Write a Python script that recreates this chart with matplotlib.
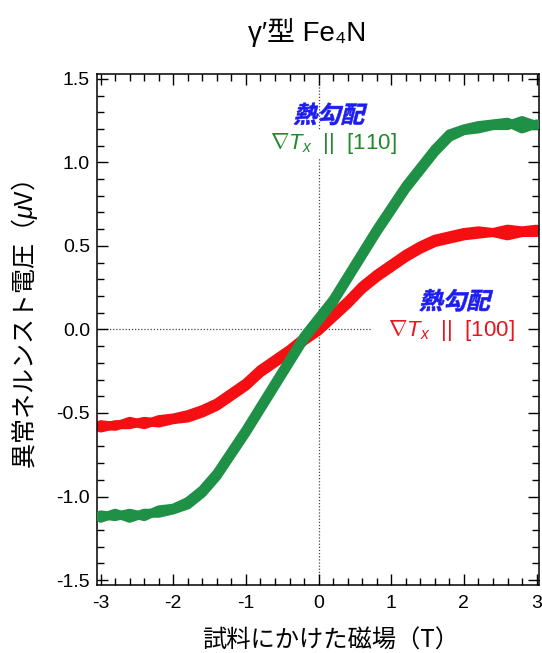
import matplotlib
matplotlib.use("Agg")
import matplotlib.pyplot as plt
import matplotlib.transforms as mtransforms
from matplotlib.ticker import MultipleLocator
from matplotlib.textpath import TextPath
from matplotlib.patches import PathPatch
from matplotlib.font_manager import FontProperties

plt.rcParams['font.family'] = ['Liberation Sans', 'Noto Sans CJK JP', 'DejaVu Sans']
plt.rcParams['mathtext.fontset'] = 'custom'
plt.rcParams['mathtext.rm'] = 'Liberation Sans'
plt.rcParams['mathtext.it'] = 'Liberation Sans:italic'

# magnetic field sweep (T)
field = [-3.0, -2.8, -2.6, -2.4, -2.2, -2.0, -1.8, -1.6, -1.4, -1.2, -1.0,
         -0.8, -0.6, -0.4, -0.2, 0.0, 0.2, 0.4, 0.6, 0.8, 1.0,
         1.2, 1.4, 1.6, 1.8, 2.0, 2.2, 2.4, 2.6, 2.8, 3.0]

# ∇T || [110]  (green), up and down sweeps
v110_up = [-1.13, -1.10, -1.13, -1.10, -1.10, -1.08, -1.05, -0.98, -0.88, -0.75, -0.62,
           -0.48, -0.34, -0.20, -0.06, 0.05, 0.16, 0.30, 0.44, 0.58, 0.71,
           0.84, 0.95, 1.06, 1.15, 1.19, 1.20, 1.22, 1.22, 1.25, 1.22]
v110_down = [-1.11, -1.12, -1.10, -1.12, -1.08, -1.07, -1.03, -0.96, -0.86, -0.73, -0.60,
             -0.46, -0.32, -0.18, -0.04, 0.07, 0.18, 0.32, 0.46, 0.60, 0.73,
             0.86, 0.97, 1.08, 1.17, 1.20, 1.22, 1.23, 1.24, 1.20, 1.23]

# ∇T || [100]  (red), up and down sweeps
v100_up = [-0.59, -0.57, -0.57, -0.55, -0.56, -0.54, -0.53, -0.50, -0.46, -0.40, -0.34,
           -0.26, -0.20, -0.14, -0.07, -0.01, 0.07, 0.15, 0.24, 0.31, 0.37,
           0.43, 0.48, 0.52, 0.54, 0.56, 0.57, 0.58, 0.56, 0.58, 0.58]
v100_down = [-0.57, -0.58, -0.55, -0.57, -0.54, -0.53, -0.51, -0.48, -0.44, -0.38, -0.32,
             -0.24, -0.18, -0.12, -0.05, 0.01, 0.09, 0.17, 0.26, 0.33, 0.39,
             0.45, 0.50, 0.54, 0.56, 0.58, 0.59, 0.58, 0.60, 0.59, 0.60]

GREEN = '#1e9146'
RED = '#f50f12'
BLUE = '#1c1cf0'

fig = plt.figure(figsize=(5.42, 6.53), dpi=100)
ax = fig.add_axes([0.179, 0.104, 0.815, 0.783])
ax.set_xlim(-3.05, 3.03)
ax.set_ylim(-1.53, 1.53)


def slanted(x, y, s, size, color, angle=14):
    # bold CJK text with an oblique slant (the CJK font has no italic)
    fp = FontProperties(family='Noto Sans CJK JP', weight='bold')
    tp = TextPath((0, 0), s, size=size, prop=fp)
    bb = tp.get_extents()
    tr = (mtransforms.Affine2D()
          .translate(-(bb.x0 + bb.x1) / 2, -(bb.y0 + bb.y1) / 2)
          .skew_deg(angle, 0)
          .scale(1 / 72.)
          + fig.dpi_scale_trans
          + mtransforms.ScaledTranslation(x, y, ax.transData))
    ax.add_patch(PathPatch(tp, transform=tr, facecolor=color, edgecolor=color,
                           lw=0.4, zorder=5, clip_on=False))


# reference lines at zero
ax.hlines(0, -3.05, 0.72, color='#444444', ls=(0, (1, 1.5)), lw=0.9, zorder=1)
ax.axvline(0, color='#444444', ls=(0, (1, 1.5)), lw=0.9, zorder=1)

lw = 6.5
for v in (v100_up, v100_down):
    ax.plot(field, v, color=RED, lw=lw, solid_joinstyle='round', solid_capstyle='round', zorder=2)
for v in (v110_up, v110_down):
    ax.plot(field, v, color=GREEN, lw=lw, solid_joinstyle='round', solid_capstyle='round', zorder=3)

# annotations
slanted(0.17, 1.29, '熱勾配', 17, BLUE)
ax.text(0.20, 1.11, r'$\nabla T_x$  ||  [110]', color='#23882c', fontsize=16,
        ha='center', va='center', zorder=4,
        bbox=dict(facecolor='white', edgecolor='none', pad=1))
slanted(1.90, 0.175, '熱勾配', 17, BLUE)
ax.text(1.83, -0.005, r'$\nabla T_x$  ||  [100]', color='#e8141e', fontsize=16,
        ha='center', va='center', zorder=4)

ax.xaxis.set_major_locator(MultipleLocator(1))
ax.xaxis.set_minor_locator(MultipleLocator(0.2))
ax.yaxis.set_major_locator(MultipleLocator(0.5))
ax.yaxis.set_minor_locator(MultipleLocator(0.1))
ax.xaxis.set_major_formatter(plt.FuncFormatter(lambda v, p: f'{v:.0f}'))
ax.yaxis.set_major_formatter(plt.FuncFormatter(lambda v, p: f'{v:.1f}'))
ax.tick_params(which='both', direction='in', top=True, right=True, width=1.0, labelsize=14)
ax.tick_params(which='major', length=8)
ax.tick_params(which='minor', length=5)
ax.tick_params(axis='x', pad=7)
ax.tick_params(axis='y', pad=5)
for s in ax.spines.values():
    s.set_linewidth(1.1)

fig.text(331 / 542, 1 - 641 / 653, '試料にかけた磁場（T）', fontsize=17.5,
         ha='center', va='center', family=['Noto Sans CJK JP'])
fig.text(25 / 542, 1 - 325 / 653, '異常ネルンスト電圧（$\\mu$V）', fontsize=18, rotation=90,
         ha='center', va='center', family=['Noto Sans CJK JP', 'DejaVu Sans'])

fig.text(307 / 542, 1 - 33 / 653, "γ′型 Fe₄N", fontsize=20, ha='center', va='center',
         family=['Liberation Sans', 'Noto Sans CJK JP', 'DejaVu Sans'])

fig.savefig('out.png', dpi=100)
